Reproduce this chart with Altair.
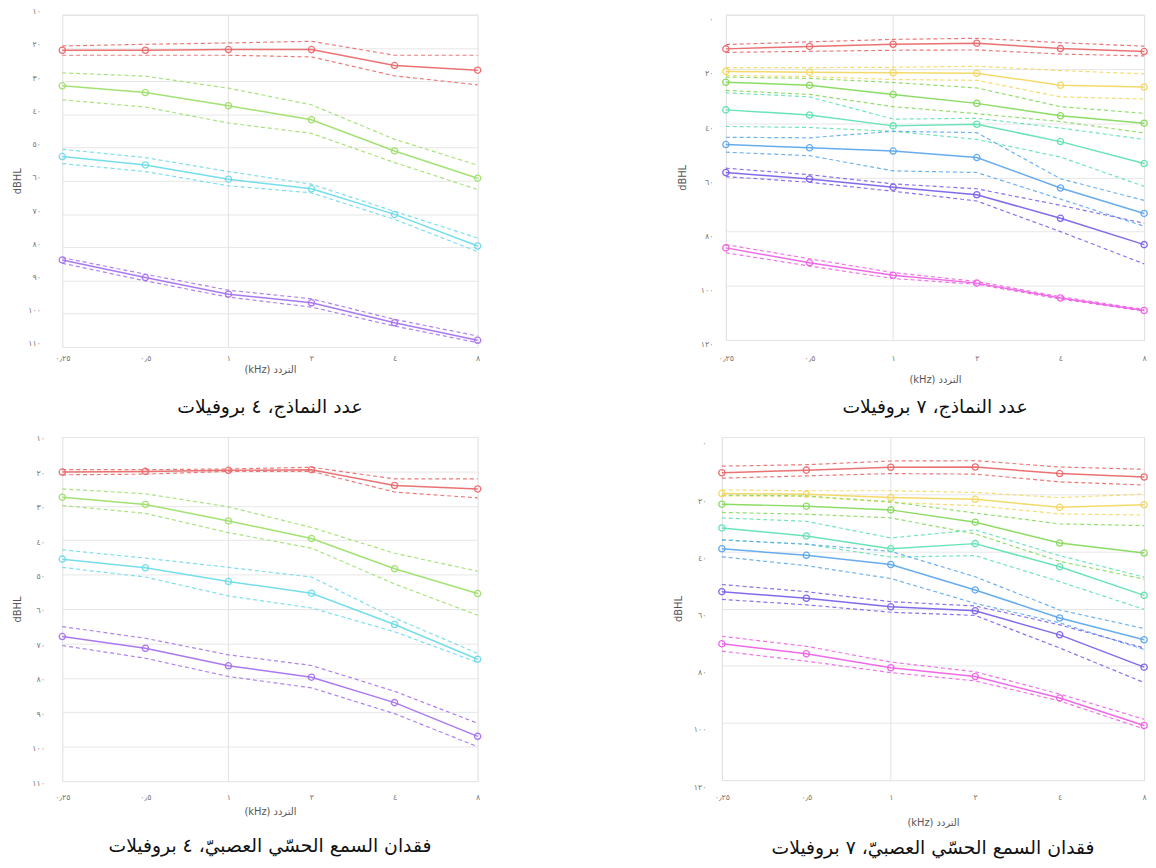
import altair as alt
import pandas as pd

FREQS = [0.25, 0.5, 1, 2, 4, 8]
FREQ_LABELS = ["٠٫٢٥", "٠٫٥", "١", "٢", "٤", "٨"]
GRID_FREQ = [1]

Y_TICKS_4 = [10, 20, 30, 40, 50, 60, 70, 80, 90, 100, 110]
Y_LABELS_4 = ["١٠", "٢٠", "٣٠", "٤٠", "٥٠", "٦٠", "٧٠", "٨٠", "٩٠", "١٠٠", "١١٠"]
Y_TICKS_7 = [0, 20, 40, 60, 80, 100, 120]
Y_LABELS_7 = ["٠", "٢٠", "٤٠", "٦٠", "٨٠", "١٠٠", "١٢٠"]

COLORS_4 = ["#ea6a6c", "#9ee06a", "#6ddcea", "#a672ee"]
COLORS_7 = ["#ea6a6c", "#f3d860", "#86da5c", "#62e2b2", "#5ea8ee", "#7d62ea", "#ee62e6"]

X_TITLE = "(kHz) التردد"
Y_TITLE = "dBHL"

# ---- top-left: number of models, 4 profiles ----
TL_TITLE = "عدد النماذج، ٤ بروفيلات"
TL_MEAN = [
    [20.7, 20.7, 20.5, 20.5, 25.3, 26.7],
    [31.4, 33.4, 37.4, 41.6, 51.0, 59.2],
    [52.7, 55.2, 59.5, 62.4, 70.1, 79.6],
    [83.8, 89.1, 94.1, 96.7, 102.7, 108.0],
]
TL_UPPER = [
    [19.4, 18.9, 18.5, 18.0, 22.2, 22.2],
    [27.5, 28.5, 32.1, 37.1, 47.5, 55.3],
    [50.5, 53.0, 57.2, 61.0, 69.2, 77.2],
    [83.1, 88.1, 92.9, 95.5, 101.7, 106.7],
]
TL_LOWER = [
    [22.2, 22.2, 22.2, 22.7, 28.4, 31.1],
    [35.6, 37.8, 42.6, 45.7, 54.5, 62.6],
    [54.8, 57.2, 61.5, 63.6, 71.6, 81.3],
    [84.8, 90.1, 95.0, 98.0, 103.7, 108.7],
]

# ---- top-right: number of models, 7 profiles ----
TR_TITLE = "عدد النماذج، ٧ بروفيلات"
TR_MEAN = [
    [12.6, 11.7, 10.9, 10.5, 12.5, 13.6],
    [20.9, 21.2, 21.4, 21.6, 26.0, 26.7],
    [24.9, 26.0, 29.4, 32.7, 37.3, 40.0],
    [35.1, 37.0, 41.0, 40.4, 46.8, 54.9],
    [47.9, 49.1, 50.3, 52.7, 63.9, 73.3],
    [58.2, 60.6, 63.6, 66.4, 75.1, 84.8],
    [86.0, 91.5, 96.1, 99.0, 104.5, 109.1],
]
TR_UPPER = [
    [11.0, 10.0, 9.1, 8.7, 10.3, 11.6],
    [19.5, 19.5, 19.4, 19.0, 20.6, 21.8],
    [23.0, 23.5, 25.0, 27.0, 33.9, 36.4],
    [28.8, 30.3, 38.5, 38.2, 41.8, 46.0],
    [45.2, 45.4, 43.0, 43.5, 60.5, 68.5],
    [56.6, 59.0, 62.4, 64.2, 70.3, 76.9],
    [84.8, 90.0, 95.1, 98.4, 104.0, 108.7],
]
TR_LOWER = [
    [13.9, 13.5, 13.1, 13.0, 14.5, 15.2],
    [22.4, 22.8, 23.9, 24.2, 30.3, 31.1],
    [27.9, 29.4, 33.9, 36.5, 39.4, 43.6],
    [41.2, 41.6, 43.0, 46.0, 52.5, 63.3],
    [50.7, 52.0, 57.6, 58.2, 68.0, 78.0],
    [59.7, 61.8, 65.1, 68.7, 80.0, 91.9],
    [87.8, 92.7, 97.3, 99.4, 104.9, 109.3],
]

# ---- bottom-left: sensorineural hearing loss, 4 profiles ----
BL_TITLE = "فقدان السمع الحسّي العصبيّ، ٤ بروفيلات"
BL_MEAN = [
    [20.2, 20.0, 19.7, 19.5, 24.1, 25.1],
    [27.5, 29.6, 34.4, 39.5, 48.3, 55.5],
    [45.5, 48.0, 52.0, 55.4, 64.5, 74.6],
    [68.0, 71.4, 76.5, 79.8, 87.2, 97.0],
]
BL_UPPER = [
    [19.5, 19.5, 19.3, 18.8, 22.2, 22.2],
    [25.1, 26.5, 30.3, 36.3, 43.8, 49.0],
    [42.8, 45.2, 47.9, 50.7, 62.6, 72.9],
    [65.1, 68.5, 73.3, 76.4, 83.9, 93.2],
]
BL_LOWER = [
    [21.0, 20.8, 20.0, 20.0, 26.0, 27.7],
    [29.9, 32.2, 37.8, 42.3, 52.7, 61.8],
    [47.9, 50.7, 56.2, 59.7, 66.6, 75.5],
    [70.6, 74.3, 79.6, 82.9, 90.4, 100.0],
]

# ---- bottom-right: sensorineural hearing loss, 7 profiles ----
BR_TITLE = "فقدان السمع الحسّي العصبيّ، ٧ بروفيلات"
BR_MEAN = [
    [12.5, 11.6, 10.6, 10.5, 12.8, 14.0],
    [19.8, 20.0, 21.2, 21.8, 24.6, 23.7],
    [23.5, 24.2, 25.5, 29.8, 37.1, 40.6],
    [31.8, 34.6, 39.1, 37.3, 45.4, 55.4],
    [39.1, 41.4, 44.6, 53.5, 63.3, 70.9],
    [54.1, 56.4, 59.4, 60.8, 69.2, 80.5],
    [72.3, 75.8, 80.7, 83.8, 91.3, 100.9],
]
BR_UPPER = [
    [10.2, 9.7, 8.4, 8.3, 10.5, 11.3],
    [18.5, 18.8, 18.8, 19.4, 21.2, 20.0],
    [20.3, 20.6, 22.7, 26.6, 30.4, 31.0],
    [28.3, 29.5, 35.3, 32.5, 41.5, 49.0],
    [36.0, 37.5, 40.0, 48.9, 60.5, 67.0],
    [51.6, 54.1, 57.6, 59.1, 65.7, 73.8],
    [69.7, 73.2, 78.7, 82.1, 89.9, 98.7],
]
BR_LOWER = [
    [14.4, 13.6, 12.8, 13.0, 15.7, 16.8],
    [20.6, 20.8, 22.9, 24.0, 26.9, 27.3],
    [26.4, 27.0, 28.3, 33.9, 43.5, 49.7],
    [36.0, 37.5, 42.0, 41.5, 50.6, 60.3],
    [41.9, 45.0, 49.5, 58.2, 65.0, 74.3],
    [56.8, 58.7, 61.3, 62.4, 73.8, 85.9],
    [74.9, 78.4, 82.4, 85.3, 92.3, 102.1],
]


def label_expr(values, labels):
    expr = "''"
    for v, l in zip(reversed(values), reversed(labels)):
        expr = f"datum.value == {v} ? '{l}' : ({expr})"
    return expr


def panel(key, mean, upper, lower, colors, yticks, ylabels, title, w, h,
          x_lab_pad, x_title_pad, y_lab_pad, y_title_pad, y_lab_off, title_off):
    rows = []
    for i, (m, u, lo) in enumerate(zip(mean, upper, lower)):
        for kind, vals in (("mean", m), ("upper", u), ("lower", lo)):
            for f, v in zip(FREQS, vals):
                rows.append({"freq": f, "db": v, "profile": f"{key}{i}",
                             "kind": kind, "series": f"{key}{i}-{kind}"})
    df = pd.DataFrame(rows)
    profiles = [f"{key}{i}" for i in range(len(mean))]

    x = alt.X("freq:Q",
              scale=alt.Scale(type="log", base=2, domain=[FREQS[0], FREQS[-1]], nice=False),
              axis=alt.Axis(values=FREQS, labelExpr=label_expr(FREQS, FREQ_LABELS),
                            grid=False, ticks=False, tickSize=0, domain=False,
                            labelFlush=False, labelFontSize=8, labelColor="#777",
                            labelFont="DejaVu Sans", labelPadding=x_lab_pad,
                            title=X_TITLE, titleFont="DejaVu Sans", titleFontSize=10,
                            titleFontWeight="normal", titleColor="#555",
                            titlePadding=x_title_pad))
    y = alt.Y("db:Q",
              scale=alt.Scale(domain=[yticks[0], yticks[-1]], reverse=True, nice=False, zero=False),
              axis=alt.Axis(values=yticks, labelExpr=label_expr(yticks, ylabels),
                            grid=True, gridColor="#e6e6e6", gridWidth=1,
                            ticks=False, tickSize=0, domain=False,
                            labelFontSize=8, labelColor="#777", labelFont="DejaVu Sans",
                            labelPadding=y_lab_pad, labelOffset=y_lab_off,
                            title=Y_TITLE, titleFont="DejaVu Sans", titleFontSize=10,
                            titleFontWeight="normal", titleColor="#555",
                            titlePadding=y_title_pad))
    color = alt.Color("profile:N", scale=alt.Scale(domain=profiles, range=colors), legend=None)

    vrule = alt.Chart(pd.DataFrame({"freq": GRID_FREQ})).mark_rule(
        color="#e2e2e2", strokeWidth=1).encode(x=x)
    base = alt.Chart(df)
    dashed = base.transform_filter("datum.kind != 'mean'").mark_line(
        strokeDash=[4, 3], strokeWidth=1.2, opacity=0.9).encode(
        x=x, y=y, color=color, detail="series:N")
    solid = base.transform_filter("datum.kind == 'mean'").mark_line(
        strokeWidth=1.5, opacity=0.95).encode(x=x, y=y, color=color, detail="series:N")
    pts = base.transform_filter("datum.kind == 'mean'").mark_point(
        shape="circle", filled=False, size=40, strokeWidth=1.3, opacity=0.95).encode(
        x=x, y=y, color=color)

    return alt.layer(vrule, dashed, solid, pts).properties(
        width=w, height=h,
        title=alt.TitleParams(title, orient="bottom", anchor="middle", fontSize=19,
                              font="DejaVu Sans", fontWeight="normal", color="#111",
                              offset=title_off))


tl = panel("a", TL_MEAN, TL_UPPER, TL_LOWER, COLORS_4, Y_TICKS_4, Y_LABELS_4, TL_TITLE,
           420, 336, 8, 2, 22, 5, -3, 24)
tr = panel("b", TR_MEAN, TR_UPPER, TR_LOWER, COLORS_7, Y_TICKS_7, Y_LABELS_7, TR_TITLE,
           423, 329, 15, 12, 13, 13, 5, 14)
bl = panel("c", BL_MEAN, BL_UPPER, BL_LOWER, COLORS_4, Y_TICKS_4, Y_LABELS_4, BL_TITLE,
           420, 348, 13, 5, 18, 9, 2, 21)
br = panel("d", BR_MEAN, BR_UPPER, BR_LOWER, COLORS_7, Y_TICKS_7, Y_LABELS_7, BR_TITLE,
           427, 347, 14, 16, 16, 10, 7, 12)

top = alt.hconcat(tl, tr, spacing=194).resolve_scale(color="independent")
bottom = alt.hconcat(bl, br, spacing=190).resolve_scale(color="independent")
chart = alt.vconcat(top, bottom, spacing=16).resolve_scale(color="independent").properties(
    padding={"left": 12, "top": 2, "right": 5, "bottom": 5}
).configure_view(stroke="#9c9c9c", strokeWidth=1.5).configure(background="white")

chart.save("out.html", embed_options={"renderer": "svg", "actions": False})
